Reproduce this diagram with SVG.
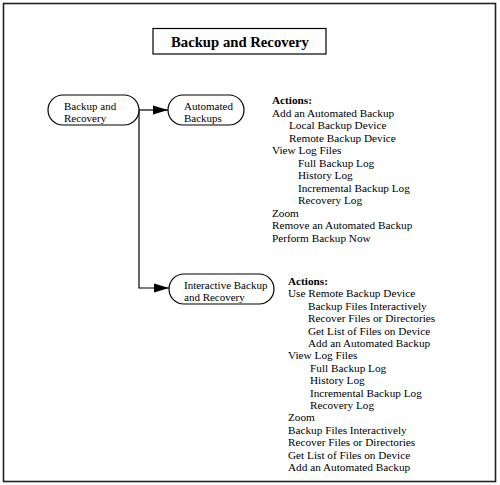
<svg xmlns="http://www.w3.org/2000/svg" width="500" height="485" viewBox="0 0 500 485">
<style>
text{font-family:"Liberation Serif","Times New Roman",serif;fill:#000}
.node{fill:#fff;stroke:#000;stroke-width:1.2}
.nt{font-size:11px}
.act{font-size:11.25px}
.b{font-weight:bold}
.conn{fill:none;stroke:#000;stroke-width:1.2}
</style>
<defs>
<marker id="arr" markerUnits="userSpaceOnUse" markerWidth="16" markerHeight="10" refX="15" refY="5" orient="auto">
<path d="M0,0.5 L15,5 L0,9.5 Z" fill="#000"/>
</marker>
</defs>
<rect x="0" y="0" width="500" height="485" fill="#fff"/>
<rect x="3.5" y="3.5" width="492" height="478" fill="none" stroke="#222" stroke-width="1.6"/>
<g id="title">
<rect x="153" y="28.5" width="173" height="25.5" fill="#fff" stroke="#000" stroke-width="1.2"/>
<text x="240" y="46.5" text-anchor="middle" font-size="14.7" font-weight="bold">Backup and Recovery</text>
</g>
<g id="connectors">
<line class="conn" x1="139" y1="110" x2="168" y2="110" marker-end="url(#arr)"/>
<path class="conn" d="M139,110 V288 H169" marker-end="url(#arr)"/>
</g>
<g id="node-backup-recovery">
<rect class="node" x="48" y="95" width="91" height="30" rx="15" ry="15"/>
<text class="nt" x="64" y="110">Backup and</text>
<text class="nt" x="64" y="121.5">Recovery</text>
</g>
<g id="node-automated-backups">
<rect class="node" x="168" y="95" width="76" height="30" rx="15" ry="15"/>
<text class="nt" x="184" y="110">Automated</text>
<text class="nt" x="184" y="121.5">Backups</text>
</g>
<g id="node-interactive">
<rect class="node" x="169" y="274" width="105" height="30" rx="15" ry="15"/>
<text class="nt" x="184" y="289">Interactive Backup</text>
<text class="nt" x="184" y="300.5">and Recovery</text>
</g>
<g id="actions-automated">
<text class="act">
<tspan class="b" x="272" y="104">Actions:</tspan>
<tspan x="272" y="116.5">Add an Automated Backup</tspan>
<tspan x="289" y="129">Local Backup Device</tspan>
<tspan x="289" y="141.5">Remote Backup Device</tspan>
<tspan x="272" y="154">View Log Files</tspan>
<tspan x="298" y="166.5">Full Backup Log</tspan>
<tspan x="298" y="179">History Log</tspan>
<tspan x="298" y="191.5">Incremental Backup Log</tspan>
<tspan x="298" y="204">Recovery Log</tspan>
<tspan x="272" y="216.5">Zoom</tspan>
<tspan x="272" y="229">Remove an Automated Backup</tspan>
<tspan x="272" y="241.5">Perform Backup Now</tspan>
</text>
</g>
<g id="actions-interactive">
<text class="act">
<tspan class="b" x="288" y="285">Actions:</tspan>
<tspan x="288" y="297.4">Use Remote Backup Device</tspan>
<tspan x="308" y="309.8">Backup Files Interactively</tspan>
<tspan x="308" y="322.2">Recover Files or Directories</tspan>
<tspan x="308" y="334.6">Get List of Files on Device</tspan>
<tspan x="308" y="347">Add an Automated Backup</tspan>
<tspan x="288" y="359.4">View Log Files</tspan>
<tspan x="310" y="371.8">Full Backup Log</tspan>
<tspan x="310" y="384.2">History Log</tspan>
<tspan x="310" y="396.6">Incremental Backup Log</tspan>
<tspan x="310" y="409">Recovery Log</tspan>
<tspan x="288" y="421.4">Zoom</tspan>
<tspan x="288" y="433.8">Backup Files Interactively</tspan>
<tspan x="288" y="446.2">Recover Files or Directories</tspan>
<tspan x="288" y="458.6">Get List of Files on Device</tspan>
<tspan x="288" y="471">Add an Automated Backup</tspan>
</text>
</g>
</svg>
